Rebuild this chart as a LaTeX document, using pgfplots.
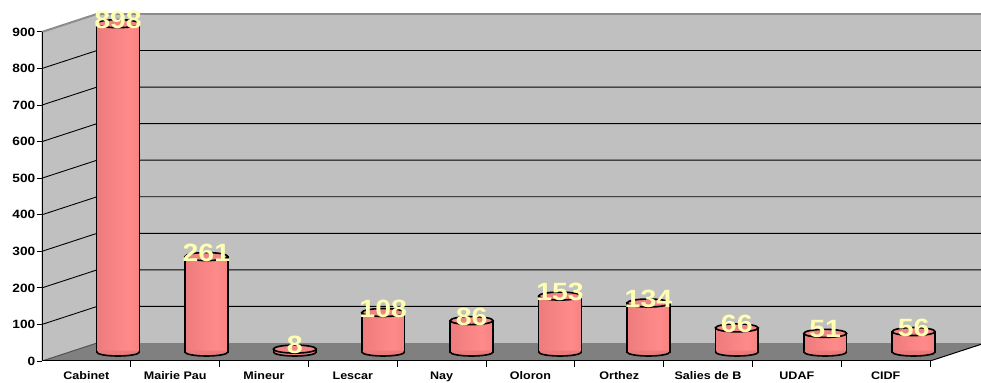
\documentclass[border=0pt]{standalone}
\usepackage{pgfplots}
\pgfplotsset{compat=1.18}
\usepackage{pgfplotstable}
\usepackage{fontspec}
\setmainfont{Liberation Sans}[FakeStretch=1.14]

\definecolor{wallgray}{HTML}{C0C0C0}
\definecolor{edgegray}{HTML}{8C8C8C}
\definecolor{floorgray}{HTML}{808080}
\definecolor{cylL}{HTML}{CC6262}
\definecolor{cyllight}{HTML}{FF8A8A}
\definecolor{cylR}{HTML}{E27272}
\definecolor{cylmid}{HTML}{EC7A7A}
\definecolor{cylcap}{HTML}{F08484}
\definecolor{labelyellow}{HTML}{FFFFB4}

% left-to-right shading of a cylinder body
\pgfdeclarehorizontalshading{cylshade}{100bp}{color(0bp)=(cylL); color(20bp)=(cylmid); color(62bp)=(cyllight); color(100bp)=(cylR)}

% elliptical cap on top of a cylinder
\pgfdeclareplotmark{cyltop}{%
  \pgfpathellipse{\pgfpointorigin}{\pgfqpoint{21.4bp}{0bp}}{\pgfqpoint{0bp}{4bp}}%
  \pgfusepathqfillstroke}
% rounded foot of a cylinder (lower half ellipse)
\pgfdeclareplotmark{cylbase}{%
  \pgfpathmoveto{\pgfqpoint{-21.4bp}{0bp}}%
  \pgfpatharc{180}{360}{21.4bp and 4bp}%
  \pgfpathlineto{\pgfqpoint{20.5bp}{0bp}}%
  \pgfpathlineto{\pgfqpoint{20.5bp}{1.3bp}}%
  \pgfpathlineto{\pgfqpoint{-20.5bp}{1.3bp}}%
  \pgfpathlineto{\pgfqpoint{-20.5bp}{0bp}}%
  \pgfpathclose
  \pgfusepathqfill
  \pgfpathmoveto{\pgfqpoint{-21.4bp}{0bp}}%
  \pgfpatharc{180}{360}{21.4bp and 4bp}%
  \pgfusepathqstroke}

% number of requests per site
\pgfplotstableread{
idx v
0 898
1 261
2 8
3 108
4 86
5 153
6 134
7 66
8 51
9 56
}\demandes

\begin{document}
\begin{tikzpicture}
\useasboundingbox (-42bp,-22bp) rectangle (939bp,361bp);

% front frame, walls, floor, ticks
\begin{axis}[
  scale only axis, width=939bp, height=347bp,
  xmin=0, xmax=10.574, ymin=0, ymax=949,
  axis line style={draw=none},
  tick pos=left, tick align=outside,
  major tick length=5.5bp,
  tick style={black, line width=1bp},
  xtick={1,2,...,10}, xticklabels={},
  extra x ticks={0.5,1.5,...,9.5},
  extra x tick labels={Cabinet, Mairie Pau, Mineur, Lescar, Nay, Oloron, Orthez, Salies de B, UDAF, CIDF},
  extra x tick style={major tick length=0pt, tick style={draw=none}},
  ytick={0,100,...,900},
  yticklabel style={font=\fontsize{12bp}{12bp}\selectfont\bfseries, inner sep=1bp},
  xticklabel style={font=\fontsize{11bp}{11bp}\selectfont\bfseries, yshift=-7bp},
  /pgf/number format/assume math mode=true,
]
% back wall
\addplot[fill=wallgray, draw=none] coordinates {(0.62,49.2) (11,49.2) (11,949.2) (0.62,949.2)} -- cycle;
% side wall
\addplot[fill=wallgray, draw=none] coordinates {(0,0) (0.62,49.2) (0.62,949.2) (0,900)} -- cycle;
% floor
\addplot[fill=floorgray, draw=none] coordinates {(0,0) (10,0) (10.62,49.2) (0.62,49.2)} -- cycle;
% gridlines across side and back wall
\addplot[black, line width=0.9bp] coordinates {(0,100) (0.62,149.2) (11,149.2)};
\addplot[black, line width=0.9bp] coordinates {(0,200) (0.62,249.2) (11,249.2)};
\addplot[black, line width=0.9bp] coordinates {(0,300) (0.62,349.2) (11,349.2)};
\addplot[black, line width=0.9bp] coordinates {(0,400) (0.62,449.2) (11,449.2)};
\addplot[black, line width=0.9bp] coordinates {(0,500) (0.62,549.2) (11,549.2)};
\addplot[black, line width=0.9bp] coordinates {(0,600) (0.62,649.2) (11,649.2)};
\addplot[black, line width=0.9bp] coordinates {(0,700) (0.62,749.2) (11,749.2)};
\addplot[black, line width=0.9bp] coordinates {(0,800) (0.62,849.2) (11,849.2)};
% top edge of the walls
\addplot[edgegray, line width=2bp] coordinates {(0,900) (0.62,949.2) (11,949.2)};
% floor edges
\addplot[black!70, line width=0.9bp] coordinates {(0,0) (0.62,49.2)};
\addplot[black, line width=1bp] coordinates {(10,0) (10.62,49.2) (11,49.2)};
% front axes
\addplot[black, line width=1.4bp] coordinates {(0,900) (0,0) (10,0)};
\end{axis}

% cylinders, set at mid depth of the floor
\begin{axis}[
  scale only axis, width=939bp, height=347bp,
  xmin=-0.36, xmax=10.262, ymin=-24.6, ymax=924.4,
  hide axis, clip=false,
  /pgf/number format/assume math mode=true,
]
% one body per site, so that each gets its own shading
\pgfplotsinvokeforeach{0,...,9}{
  \addplot[ybar, bar shift=0pt, bar width=0.485, draw=black, line width=1.6bp,
    shade, shading=cylshade,
    restrict expr to domain={\coordindex}{#1:#1}]
    table[x expr=\thisrow{idx}+0.5, y=v] \demandes;
}
\addplot[only marks, mark=cylbase, mark options={fill=cylmid, draw=black, line width=1.6bp}]
  table[x expr=\thisrow{idx}+0.5, y expr=0] \demandes;
\addplot[only marks, mark=cyltop, mark options={fill=cylcap, draw=black, line width=1.6bp},
  point meta=explicit,
  nodes near coords,
  nodes near coords style={anchor=center, yshift=4bp, text=labelyellow,
    font=\fontsize{25bp}{25bp}\selectfont\bfseries}]
  table[x expr=\thisrow{idx}+0.5, y=v, meta=v] \demandes;
\end{axis}
\end{tikzpicture}
\end{document}
